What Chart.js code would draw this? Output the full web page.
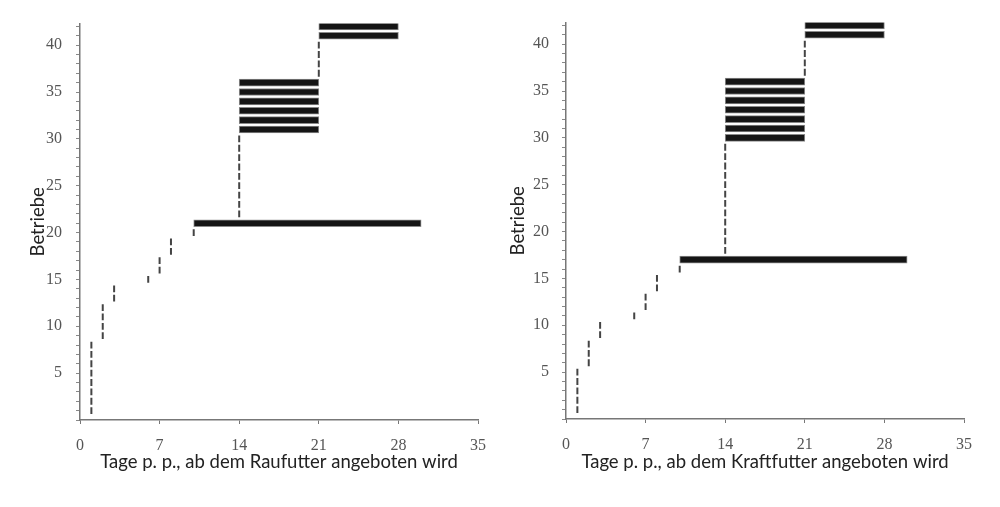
<!DOCTYPE html>
<html>
<head>
<meta charset="utf-8">
<script src="https://cdn.jsdelivr.net/npm/chart.js@4/dist/chart.umd.min.js"></script>
<style>
  html, body { margin: 0; padding: 0; background: #fff; }
  #wrap { position: relative; width: 1000px; height: 507px; }
  .panel { position: absolute; top: 0; height: 507px; }
</style>
</head>
<body>
<div id="wrap">
  <div class="panel" style="left:0;width:500px"><canvas id="rauChart"></canvas></div>
  <div class="panel" style="left:480px;width:520px"><canvas id="kraftChart"></canvas></div>
</div>
<script>
// Farms (Betriebe) 1..42, day from which the feed is offered (start) and, for ranges, the last day (end)
const farms = [1,2,3,4,5,6,7,8,9,10,11,12,13,14,15,16,17,18,19,20,21,22,23,24,25,26,27,28,29,30,31,32,33,34,35,36,37,38,39,40,41,42];

const rauStart = [1,1,1,1,1,1,1,1,2,2,2,2,3,3,6,7,7,8,8,10,10,14,14,14,14,14,14,14,14,14,14,14,14,14,14,14,21,21,21,21,21,21];
const rauEnd   = [1,1,1,1,1,1,1,1,2,2,2,2,3,3,6,7,7,8,8,10,30,14,14,14,14,14,14,14,14,14,21,21,21,21,21,21,21,21,21,21,28,28];

const kraftStart = [1,1,1,1,1,2,2,2,3,3,6,7,7,8,8,10,10,14,14,14,14,14,14,14,14,14,14,14,14,14,14,14,14,14,14,14,21,21,21,21,21,21];
const kraftEnd   = [1,1,1,1,1,2,2,2,3,3,6,7,7,8,8,10,30,14,14,14,14,14,14,14,14,14,14,14,14,21,21,21,21,21,21,21,21,21,21,21,28,28];

const dayTicks = [0, 7, 14, 21, 28, 35];

const serif = 'Liberation Serif';
const sans = 'Lato';

// Split farms into single-day marks and day ranges
function splitData(starts, ends) {
    const singles = [];
    const ranges = [];
    farms.forEach((f, i) => {
        if (ends[i] > starts[i]) {
            ranges.push({ x: [starts[i], ends[i]], y: f });
        } else {
            singles.push({ x: starts[i], y: f });
        }
    });
    return { singles, ranges };
}

function makeChart(id, starts, ends, xTitle, box) {
    const { singles, ranges } = splitData(starts, ends);
    const ctx = document.getElementById(id).getContext('2d');
    return new Chart(ctx, {
        type: 'scatter',
        data: {
            datasets: [
                {
                    type: 'bar',
                    indexAxis: 'y',
                    data: ranges,
                    backgroundColor: '#151515',
                    borderColor: '#8a8a8a',
                    borderWidth: 1,
                    borderSkipped: false,
                    barThickness: 7
                },
                {
                    type: 'scatter',
                    data: singles,
                    pointStyle: 'line',
                    rotation: 90,
                    radius: 3.4,
                    borderWidth: 2,
                    borderColor: '#444'
                }
            ]
        },
        options: {
            responsive: true,
            maintainAspectRatio: false,
            animation: false,
            layout: { padding: { top: box.top, right: box.right, bottom: 0, left: 0 } },
            plugins: { legend: { display: false }, tooltip: { enabled: false } },
            scales: {
                x: {
                    type: 'linear',
                    min: 0,
                    max: 35,
                    offset: false,
                    afterBuildTicks: (scale) => { scale.ticks = dayTicks.map(v => ({ value: v })); },
                    afterFit: (scale) => { scale.height = box.xHeight; },
                    border: { color: '#777', width: 1.5 },
                    grid: { drawOnChartArea: false, offset: false, tickLength: 4, color: '#777' },
                    ticks: { padding: 12, color: '#555', font: { family: serif, size: 16 } },
                    title: {
                        display: true,
                        text: xTitle,
                        color: '#222',
                        font: { family: sans, size: 18.5 },
                        padding: { top: 0, bottom: 34 }
                    }
                },
                y: {
                    type: 'linear',
                    min: 0,
                    max: 42.3,
                    offset: false,
                    afterFit: (scale) => { scale.width = box.yWidth; },
                    border: { color: '#777', width: 1.5 },
                    grid: { drawOnChartArea: false, offset: false, tickLength: 4, color: '#888' },
                    ticks: {
                        stepSize: 1,
                        autoSkip: false,
                        includeBounds: false,
                        padding: box.yPad,
                        color: '#555',
                        font: { family: serif, size: 16 },
                        callback: (v) => (v > 0 && v % 5 === 0 ? v : '')
                    },
                    title: {
                        display: true,
                        text: 'Betriebe',
                        color: '#222',
                        font: { family: sans, size: 18.5 },
                        padding: { top: 27, bottom: 0 }
                    }
                }
            }
        }
    });
}

makeChart('rauChart', rauStart, rauEnd, 'Tage p. p., ab dem Raufutter angeboten wird',
    { top: 22, right: 22, xHeight: 87, yWidth: 80, yPad: 14 });
makeChart('kraftChart', kraftStart, kraftEnd, 'Tage p. p., ab dem Kraftfutter angeboten wird',
    { top: 20, right: 36, xHeight: 88, yWidth: 86, yPad: 13 });
</script>
</body>
</html>
